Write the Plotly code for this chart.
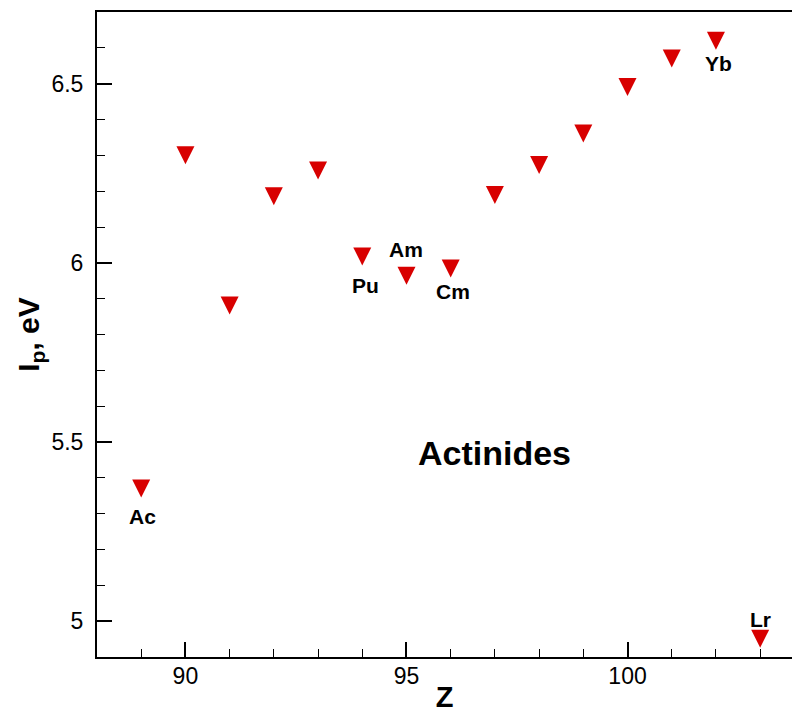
import plotly.graph_objects as go

# First ionization potentials of the actinides
Z = [89, 90, 91, 92, 93, 94, 95, 96, 97, 98, 99, 100, 101, 102, 103]
Ip = [5.370, 6.300, 5.881, 6.186, 6.258, 6.018, 5.964, 5.984,
      6.189, 6.273, 6.361, 6.491, 6.570, 6.620, 4.951]

# Element labels attached to selected points
label_z = [89, 94, 95, 96, 102, 103]
label_text = ["Ac", "Pu", "Am", "Cm", "Yb", "Lr"]

x_range = [88, 103.72]
y_range = [4.9, 6.7]
x_ticks = [90, 95, 100]
y_ticks = [5, 5.5, 6, 6.5]
y_tick_text = ["5", "5.5", "6", "6.5"]

FONT = "Liberation Sans, Arial, sans-serif"
RED = "#d80000"
MARKER_SIZE = 18

# pixel offsets (dx, dy) of each element label from its point
label_offsets = {
    "Ac": (1, -28),
    "Pu": (3, -29),
    "Am": (0, 26),
    "Cm": (2, -23),
    "Yb": (3, -23),
    "Lr": (0, 19),
}

fig = go.Figure()
fig.add_trace(go.Scatter(
    x=Z, y=Ip, mode="markers",
    marker=dict(symbol="arrow-down", size=MARKER_SIZE, color=RED,
                standoff=MARKER_SIZE / 2, line=dict(width=0)),
    showlegend=False, hoverinfo="x+y",
))

ip_by_z = dict(zip(Z, Ip))
for z, txt in zip(label_z, label_text):
    dx, dy = label_offsets[txt]
    fig.add_annotation(
        x=z, y=ip_by_z[z], text="<b>" + txt + "</b>", showarrow=False,
        xshift=dx, yshift=dy,
        font=dict(family=FONT, size=21, color="black"),
    )

fig.add_annotation(
    x=97, y=5.468, text="<b>Actinides</b>", showarrow=False,
    font=dict(family=FONT, size=34, color="black"),
)

axis_common = dict(
    showline=True, linecolor="black", linewidth=2,
    ticks="inside", ticklen=15, tickwidth=2, tickcolor="black",
    showgrid=False, zeroline=False, automargin=False,
    tickfont=dict(family=FONT, size=23, color="black"),
)

fig.update_xaxes(
    range=x_range, tickvals=x_ticks, mirror=True, ticklabelstandoff=-3,
    minor=dict(dtick=1, ticks="inside", ticklen=8, tickwidth=1,
               tickcolor="black", showgrid=False),
    title=dict(text="<b>Z</b>", font=dict(family=FONT, size=29, color="black"),
               standoff=7),
    **axis_common,
)
fig.update_yaxes(
    range=y_range, tickvals=y_ticks, ticktext=y_tick_text, mirror=False,
    ticklabelstandoff=7,
    minor=dict(dtick=0.1, ticks="inside", ticklen=8, tickwidth=1,
               tickcolor="black", showgrid=False),
    title=dict(text="<b>I<sub>p</sub>, eV</b>",
               font=dict(family=FONT, size=30, color="black"), standoff=3),
    **axis_common,
)

fig.update_layout(
    width=792, height=713,
    margin=dict(l=97, r=0, t=12, b=56),
    plot_bgcolor="white", paper_bgcolor="white",
)

fig.write_html("out.html")
